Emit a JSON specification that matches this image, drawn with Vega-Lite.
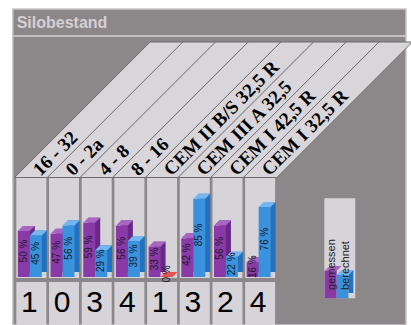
{
  "$schema": "https://vega.github.io/schema/vega-lite/v6.json",
  "width": 411,
  "height": 325,
  "autosize": {"type": "none"},
  "padding": 0,
  "background": "#ffffff",
  "config": {"view": {"stroke": null}},
  "datasets": {
    "silos": [
      {"nr": 1, "silo": "16 - 32", "gemessen": 50, "berechnet": 45, "anzahl": 1},
      {"nr": 2, "silo": "0 - 2a", "gemessen": 47, "berechnet": 56, "anzahl": 0},
      {"nr": 3, "silo": "4 - 8", "gemessen": 59, "berechnet": 29, "anzahl": 3},
      {"nr": 4, "silo": "8 - 16", "gemessen": 56, "berechnet": 39, "anzahl": 4},
      {"nr": 5, "silo": "CEM II B/S 32,5 R", "gemessen": 33, "berechnet": 0, "anzahl": 1},
      {"nr": 6, "silo": "CEM III A 32,5", "gemessen": 42, "berechnet": 85, "anzahl": 3},
      {"nr": 7, "silo": "CEM I 42,5 R", "gemessen": 56, "berechnet": 22, "anzahl": 2},
      {"nr": 8, "silo": "CEM I 32,5 R", "gemessen": 16, "berechnet": 76, "anzahl": 4}
    ],
    "titel": [{"text": "Silobestand"}]
  },
  "resolve": {"scale": {"y": "independent"}},
  "layer": [
    {
      "data": {"name": "titel"},
      "mark": {"type": "rect", "fill": "#8c8789", "stroke": "#c9c5c7", "strokeWidth": 1.5},
      "encoding": {
        "x": {"datum": 0.433, "type": "quantitative", "scale": {"domain": [0.194, 12.463], "nice": false, "zero": false}, "axis": null},
        "x2": {"datum": 12.463},
        "y": {"datum": 291.3, "type": "quantitative", "scale": {"domain": [-52.17, 301.09], "nice": false, "zero": false}, "axis": null},
        "y2": {"datum": -52.17}
      }
    },
    {
      "data": {"name": "titel"},
      "mark": {"type": "rule", "stroke": "#c4c0c2", "strokeWidth": 2},
      "encoding": {
        "x": {"datum": 0.433, "type": "quantitative", "scale": {"domain": [0.194, 12.463], "nice": false, "zero": false}, "axis": null},
        "x2": {"datum": 12.463},
        "y": {"datum": 261.96, "type": "quantitative", "scale": {"domain": [-52.17, 301.09], "nice": false, "zero": false}, "axis": null}
      }
    },
    {
      "data": {"name": "titel"},
      "mark": {"type": "text", "align": "left", "baseline": "middle", "font": "Liberation Sans", "fontWeight": "bold", "fontSize": 16, "fill": "#d4d0d4"},
      "encoding": {
        "x": {"datum": 0.552, "type": "quantitative", "scale": {"domain": [0.194, 12.463], "nice": false, "zero": false}, "axis": null},
        "y": {"datum": 276.6, "type": "quantitative", "scale": {"domain": [-52.17, 301.09], "nice": false, "zero": false}, "axis": null},
        "text": {"field": "text"}
      }
    },
    {
      "data": {"name": "silos"},
      "mark": {"type": "bar", "width": 30, "fill": "#d6d4d8"},
      "encoding": {
        "x": {"field": "nr", "type": "quantitative", "scale": {"domain": [0.194, 12.463], "nice": false, "zero": false}, "axis": null},
        "y": {"datum": 107.6, "type": "quantitative", "scale": {"domain": [-52.17, 301.09], "nice": false, "zero": false}, "axis": null},
        "y2": {"datum": -1.09}
      }
    },
    {
      "data": {"name": "silos"},
      "mark": {"type": "bar", "width": 30, "fill": "#d6d4d8"},
      "encoding": {
        "x": {"field": "nr", "type": "quantitative", "scale": {"domain": [0.194, 12.463], "nice": false, "zero": false}, "axis": null},
        "y": {"datum": -5.43, "type": "quantitative", "scale": {"domain": [-52.17, 301.09], "nice": false, "zero": false}, "axis": null},
        "y2": {"datum": -52.17}
      }
    },
    {
      "data": {"name": "silos"},
      "mark": {"type": "point", "filled": true, "opacity": 1, "size": 40000, "fill": "#d8d6da", "stroke": "#6e6a6c", "strokeWidth": 1, "shape": "M-0.1675,0L0.1675,0L1.5225,-1.355L1.1875,-1.355Z"},
      "encoding": {
        "x": {"field": "nr", "type": "quantitative", "scale": {"domain": [0.194, 12.463], "nice": false, "zero": false}, "axis": null},
        "y": {"datum": 108.15, "type": "quantitative", "scale": {"domain": [-52.17, 301.09], "nice": false, "zero": false}, "axis": null}
      }
    },
    {
      "data": {"name": "silos"},
      "mark": {"type": "text", "angle": 315, "align": "left", "baseline": "middle", "dx": 7, "font": "Liberation Serif", "fontWeight": "bold", "fontSize": 19, "fill": "#000000"},
      "encoding": {
        "x": {"field": "nr", "type": "quantitative", "scale": {"domain": [0.194, 12.463], "nice": false, "zero": false}, "axis": null},
        "y": {"datum": 108.15, "type": "quantitative", "scale": {"domain": [-52.17, 301.09], "nice": false, "zero": false}, "axis": null},
        "text": {"field": "silo"}
      }
    },
    {
      "data": {"name": "silos"},
      "mark": {"type": "bar", "width": 12, "xOffset": -2.5, "yOffset": -5, "y2Offset": -5, "fill": "#6a2886"},
      "encoding": {
        "x": {"field": "nr", "type": "quantitative", "scale": {"domain": [0.194, 12.463], "nice": false, "zero": false}, "axis": null},
        "y": {"field": "gemessen", "type": "quantitative", "scale": {"domain": [-52.17, 301.09], "nice": false, "zero": false}, "axis": null},
        "y2": {"datum": 0}
      }
    },
    {
      "data": {"name": "silos"},
      "mark": {"type": "bar", "width": 12, "xOffset": -7.5, "fill": "#8a3aa6"},
      "encoding": {
        "x": {"field": "nr", "type": "quantitative", "scale": {"domain": [0.194, 12.463], "nice": false, "zero": false}, "axis": null},
        "y": {"field": "gemessen", "type": "quantitative", "scale": {"domain": [-52.17, 301.09], "nice": false, "zero": false}, "axis": null},
        "y2": {"datum": 0}
      }
    },
    {
      "data": {"name": "silos"},
      "mark": {"type": "point", "filled": true, "opacity": 1, "size": 400, "strokeWidth": 0, "xOffset": -7.5, "fill": "#a865c2", "shape": "M-0.6,0L0.6,0L1.1,-0.5L-0.1,-0.5Z"},
      "encoding": {
        "x": {"field": "nr", "type": "quantitative", "scale": {"domain": [0.194, 12.463], "nice": false, "zero": false}, "axis": null},
        "y": {"field": "gemessen", "type": "quantitative", "scale": {"domain": [-52.17, 301.09], "nice": false, "zero": false}, "axis": null}
      }
    },
    {
      "data": {"name": "silos"},
      "mark": {"type": "bar", "width": 12, "xOffset": 9.5, "yOffset": -5, "y2Offset": -5, "fill": "#2370bc"},
      "encoding": {
        "x": {"field": "nr", "type": "quantitative", "scale": {"domain": [0.194, 12.463], "nice": false, "zero": false}, "axis": null},
        "y": {"field": "berechnet", "type": "quantitative", "scale": {"domain": [-52.17, 301.09], "nice": false, "zero": false}, "axis": null},
        "y2": {"datum": 0}
      }
    },
    {
      "data": {"name": "silos"},
      "mark": {"type": "bar", "width": 12, "xOffset": 4.5, "fill": "#3b92dc"},
      "encoding": {
        "x": {"field": "nr", "type": "quantitative", "scale": {"domain": [0.194, 12.463], "nice": false, "zero": false}, "axis": null},
        "y": {"field": "berechnet", "type": "quantitative", "scale": {"domain": [-52.17, 301.09], "nice": false, "zero": false}, "axis": null},
        "y2": {"datum": 0}
      }
    },
    {
      "data": {"name": "silos"},
      "mark": {"type": "point", "filled": true, "opacity": 1, "size": 400, "strokeWidth": 0, "xOffset": 4.5, "shape": "M-0.6,0L0.6,0L1.1,-0.5L-0.1,-0.5Z"},
      "encoding": {
        "x": {"field": "nr", "type": "quantitative", "scale": {"domain": [0.194, 12.463], "nice": false, "zero": false}, "axis": null},
        "y": {"field": "berechnet", "type": "quantitative", "scale": {"domain": [-52.17, 301.09], "nice": false, "zero": false}, "axis": null},
        "fill": {"condition": {"test": "datum.berechnet === 0", "value": "#e65050"}, "value": "#74b6ef"}
      }
    },
    {
      "data": {"name": "silos"},
      "mark": {"type": "text", "angle": 270, "align": "center", "baseline": "middle", "xOffset": -7.5, "font": "Liberation Sans", "fontSize": 10, "fill": "#221830", "text": {"expr": "datum.gemessen + ' %'"}},
      "encoding": {
        "x": {"field": "nr", "type": "quantitative", "scale": {"domain": [0.194, 12.463], "nice": false, "zero": false}, "axis": null},
        "y": {"field": "gemessen", "type": "quantitative", "scale": {"domain": [-110.87, 595.65], "nice": false, "zero": false}, "axis": null}
      }
    },
    {
      "data": {"name": "silos"},
      "mark": {"type": "text", "angle": 270, "align": "center", "baseline": "middle", "xOffset": 4.5, "font": "Liberation Sans", "fontSize": 10, "fill": "#121a30", "text": {"expr": "datum.berechnet + ' %'"}},
      "encoding": {
        "x": {"field": "nr", "type": "quantitative", "scale": {"domain": [0.194, 12.463], "nice": false, "zero": false}, "axis": null},
        "y": {"field": "berechnet", "type": "quantitative", "scale": {"domain": [-110.87, 595.65], "nice": false, "zero": false}, "axis": null}
      }
    },
    {
      "data": {"name": "silos"},
      "mark": {"type": "text", "align": "center", "baseline": "middle", "xOffset": -2, "font": "Liberation Sans", "fontSize": 30, "fill": "#000000"},
      "encoding": {
        "x": {"field": "nr", "type": "quantitative", "scale": {"domain": [0.194, 12.463], "nice": false, "zero": false}, "axis": null},
        "y": {"datum": -28.26, "type": "quantitative", "scale": {"domain": [-52.17, 301.09], "nice": false, "zero": false}, "axis": null},
        "text": {"field": "anzahl"}
      }
    },
    {
      "data": {"name": "titel"},
      "mark": {"type": "rect", "fill": "#d6d4d8"},
      "encoding": {
        "x": {"datum": 9.964, "type": "quantitative", "scale": {"domain": [0.194, 12.463], "nice": false, "zero": false}, "axis": null},
        "x2": {"datum": 10.91},
        "y": {"datum": 85.54, "type": "quantitative", "scale": {"domain": [-52.17, 301.09], "nice": false, "zero": false}, "axis": null},
        "y2": {"datum": -23.15}
      }
    },
    {
      "data": {"name": "titel"},
      "mark": {"type": "rect", "fill": "#8a3aa6"},
      "encoding": {
        "x": {"datum": 9.97, "type": "quantitative", "scale": {"domain": [0.194, 12.463], "nice": false, "zero": false}, "axis": null},
        "x2": {"datum": 10.343},
        "y": {"datum": 6.52, "type": "quantitative", "scale": {"domain": [-52.17, 301.09], "nice": false, "zero": false}, "axis": null},
        "y2": {"datum": -23.15}
      }
    },
    {
      "data": {"name": "titel"},
      "mark": {"type": "point", "filled": true, "opacity": 1, "size": 400, "strokeWidth": 0, "fill": "#a865c2", "shape": "M-0.6,0L0.6,0L1.1,-0.5L-0.1,-0.5Z"},
      "encoding": {
        "x": {"datum": 10.157, "type": "quantitative", "scale": {"domain": [0.194, 12.463], "nice": false, "zero": false}, "axis": null},
        "y": {"datum": 6.52, "type": "quantitative", "scale": {"domain": [-52.17, 301.09], "nice": false, "zero": false}, "axis": null}
      }
    },
    {
      "data": {"name": "titel"},
      "mark": {"type": "rect", "fill": "#2370bc"},
      "encoding": {
        "x": {"datum": 10.701, "type": "quantitative", "scale": {"domain": [0.194, 12.463], "nice": false, "zero": false}, "axis": null},
        "x2": {"datum": 10.851},
        "y": {"datum": 7.61, "type": "quantitative", "scale": {"domain": [-52.17, 301.09], "nice": false, "zero": false}, "axis": null},
        "y2": {"datum": -17.39}
      }
    },
    {
      "data": {"name": "titel"},
      "mark": {"type": "rect", "fill": "#3b92dc"},
      "encoding": {
        "x": {"datum": 10.343, "type": "quantitative", "scale": {"domain": [0.194, 12.463], "nice": false, "zero": false}, "axis": null},
        "x2": {"datum": 10.701},
        "y": {"datum": 2.17, "type": "quantitative", "scale": {"domain": [-52.17, 301.09], "nice": false, "zero": false}, "axis": null},
        "y2": {"datum": -23.15}
      }
    },
    {
      "data": {"name": "titel"},
      "mark": {"type": "point", "filled": true, "opacity": 1, "size": 400, "strokeWidth": 0, "fill": "#74b6ef", "shape": "M-0.6,0L0.6,0L1.1,-0.5L-0.1,-0.5Z"},
      "encoding": {
        "x": {"datum": 10.522, "type": "quantitative", "scale": {"domain": [0.194, 12.463], "nice": false, "zero": false}, "axis": null},
        "y": {"datum": 2.17, "type": "quantitative", "scale": {"domain": [-52.17, 301.09], "nice": false, "zero": false}, "axis": null}
      }
    },
    {
      "data": {"name": "titel"},
      "mark": {"type": "text", "angle": 270, "align": "left", "baseline": "middle", "font": "Liberation Sans", "fontSize": 11, "fill": "#222222", "text": "gemessen"},
      "encoding": {
        "x": {"datum": 10.194, "type": "quantitative", "scale": {"domain": [0.194, 12.463], "nice": false, "zero": false}, "axis": null},
        "y": {"datum": -14.13, "type": "quantitative", "scale": {"domain": [-52.17, 301.09], "nice": false, "zero": false}, "axis": null}
      }
    },
    {
      "data": {"name": "titel"},
      "mark": {"type": "text", "angle": 270, "align": "left", "baseline": "middle", "font": "Liberation Sans", "fontSize": 11, "fill": "#222222", "text": "berechnet"},
      "encoding": {
        "x": {"datum": 10.627, "type": "quantitative", "scale": {"domain": [0.194, 12.463], "nice": false, "zero": false}, "axis": null},
        "y": {"datum": -14.13, "type": "quantitative", "scale": {"domain": [-52.17, 301.09], "nice": false, "zero": false}, "axis": null}
      }
    }
  ]
}
